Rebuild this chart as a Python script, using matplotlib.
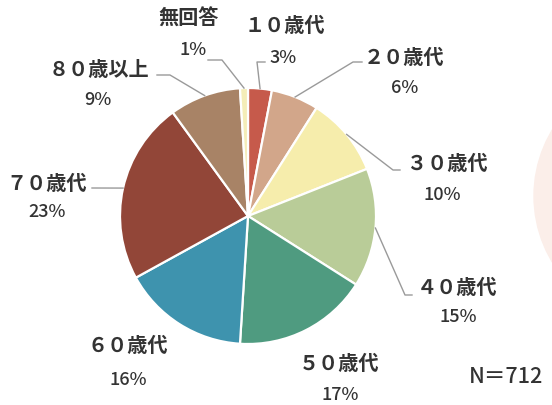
import numpy as np
import matplotlib
matplotlib.use("Agg")
import matplotlib.pyplot as plt
from matplotlib.patches import Circle

plt.rcParams['font.family'] = ['Noto Sans CJK JP', 'DejaVu Sans']

# data (clockwise from 12 o'clock)
labels = ["１０歳代", "２０歳代", "３０歳代", "４０歳代", "５０歳代",
          "６０歳代", "７０歳代", "８０歳以上", "無回答"]
shares = [3, 6, 10, 15, 17, 16, 23, 9, 1]
colors = ["#c65a4b", "#d2a68a", "#f6edac", "#b9cc98", "#4f9b80",
          "#3e93ae", "#924638", "#a88366", "#f4edb8"]
n_total = 712

# layout, in pixels from top-left
W, H = 552, 405
cx, cy, R = 248, 216, 128
name_pos = [(285, 25), (404, 57), (447, 163), (457, 288), (339, 363),
            (128, 345), (47, 183), (99, 70), (189, 18)]
pct_pos = [(283, 58), (405, 88), (442, 195), (458, 317), (340, 395),
           (128, 380), (47, 212), (98, 100), (193, 50)]
# leader line: elbow and end point (None = no line)
leaders = [((257, 62), (265, 62)), ((353, 62), (362, 62)),
           ((393, 170), (400, 170)), ((405, 295), (412, 295)),
           None, None, ((92, 188), (92, 188)),
           ((170, 75), (157, 75)), ((222, 60), (208, 60))]

fig = plt.figure(figsize=(W / 100, H / 100), dpi=100)
ax = fig.add_axes([0, 0, 1, 1])

def Y(y):
    return H - y

# faint decorative circle at the right edge
ax.add_patch(Circle((662, Y(196)), 128, color="#fbeee9", zorder=0))

ax.pie(shares, colors=colors, startangle=90, counterclock=False,
       center=(cx, Y(cy)), radius=R, frame=True,
       wedgeprops=dict(edgecolor="white", linewidth=1.6))
ax.set_xlim(0, W)
ax.set_ylim(0, H)
ax.set_aspect('equal')
ax.axis('off')

txt_col = "#333333"
cum = np.cumsum([0] + shares[:-1])
for i, lab in enumerate(labels):
    mid = (cum[i] + shares[i] / 2) / sum(shares) * 2 * np.pi
    sx = cx + R * np.sin(mid)
    sy = cy - R * np.cos(mid)
    if leaders[i] is not None:
        (ex, ey), (tx, ty) = leaders[i]
        ax.plot([sx, ex, tx], [Y(sy), Y(ey), Y(ty)], color="#9a9a9a",
                lw=1.0, zorder=1)
    nx, ny = name_pos[i]
    ax.text(nx, Y(ny), lab, ha='center', va='center', fontsize=14.5,
            color=txt_col, fontweight='bold')
    px, py = pct_pos[i]
    ax.text(px, Y(py), f"{shares[i]}%", ha='center', va='center',
            fontsize=13, color=txt_col, fontweight='medium')

ax.text(506, Y(377), f"N＝{n_total}", ha='center', va='center',
        fontsize=15.5, color="#333333", fontweight='medium')

fig.savefig("out.png", dpi=100)
